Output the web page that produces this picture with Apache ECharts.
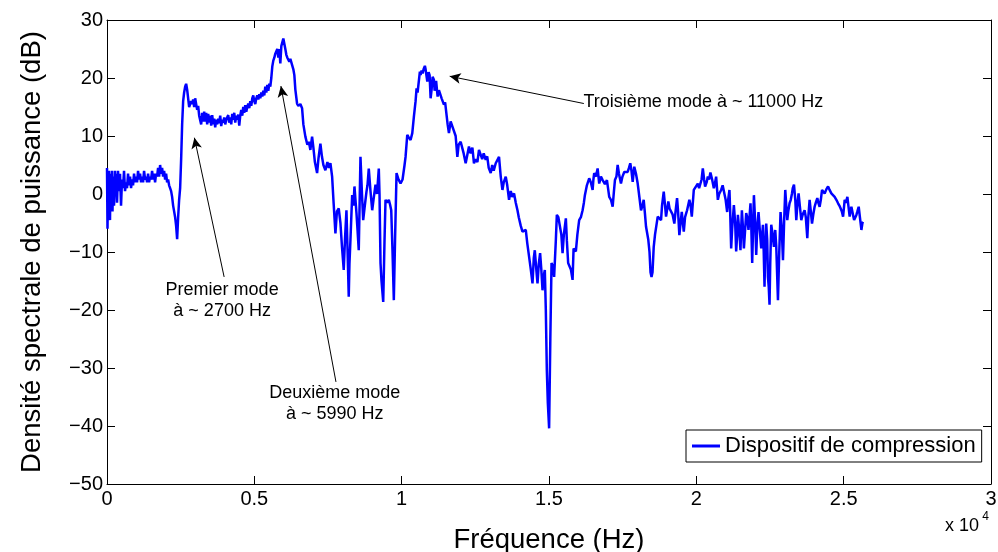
<!DOCTYPE html>
<html>
<head>
<meta charset="utf-8">
<script src="https://cdn.jsdelivr.net/npm/echarts@6/dist/echarts.min.js"></script>
<style>
  html, body { margin: 0; padding: 0; background: #fff; }
  #chart { width: 998px; height: 552px; }
</style>
</head>
<body>
<div id="chart"></div>
<script>
// densité spectrale de puissance
var freqHz = [
  0, 17, 34, 51, 68, 102, 119, 136, 170, 187,
  204, 238, 272, 289, 306, 340, 374, 408, 442, 476,
  510, 544, 578, 612, 646, 680, 714, 748, 782, 816,
  850, 884, 918, 952, 986, 1020, 1054, 1088, 1122, 1156,
  1190, 1224, 1258, 1292, 1326, 1360, 1394, 1428, 1462, 1496,
  1530, 1564, 1598, 1632, 1666, 1700, 1734, 1768, 1802, 1836,
  1870, 1904, 1938, 1972, 2006, 2040, 2074, 2108, 2142, 2176,
  2210, 2244, 2278, 2312, 2346, 2380, 2414, 2448, 2482, 2516,
  2550, 2584, 2618, 2652, 2686, 2720, 2754, 2788, 2822, 2856,
  2890, 2924, 2958, 2992, 3026, 3060, 3094, 3128, 3162, 3196,
  3230, 3264, 3298, 3332, 3366, 3400, 3434, 3468, 3502, 3536,
  3570, 3604, 3638, 3672, 3706, 3740, 3774, 3808, 3842, 3876,
  3910, 3944, 3978, 4012, 4046, 4080, 4114, 4148, 4182, 4216,
  4250, 4284, 4318, 4352, 4386, 4420, 4454, 4488, 4522, 4556,
  4590, 4624, 4658, 4692, 4726, 4760, 4794, 4828, 4862, 4896,
  4930, 4964, 4998, 5032, 5066, 5100, 5134, 5168, 5202, 5236,
  5270, 5304, 5338, 5372, 5406, 5440, 5474, 5508, 5542, 5576,
  5610, 5644, 5678, 5712, 5746, 5780, 5814, 5848, 5882, 5916,
  5950, 5984, 6018, 6052, 6086, 6120, 6154, 6188, 6222, 6256,
  6290, 6324, 6358, 6392, 6450, 6494, 6562, 6620, 6664, 6732,
  6800, 6851, 6902, 6960, 7004, 7055, 7130, 7174, 7242, 7293,
  7344, 7412, 7480, 7531, 7582, 7640, 7684, 7752, 7803, 7864,
  7922, 7973, 8034, 8075, 8126, 8160, 8204, 8228, 8262, 8320,
  8364, 8398, 8432, 8466, 8500, 8544, 8568, 8602, 8653, 8694,
  8738, 8806, 8840, 8884, 8942, 9000, 9044, 9112, 9163, 9224,
  9248, 9282, 9316, 9374, 9418, 9452, 9503, 9564, 9605, 9646,
  9690, 9734, 9775, 9826, 9894, 9962, 10030, 10098, 10132, 10190,
  10234, 10302, 10360, 10414, 10472, 10506, 10540, 10584, 10618, 10642,
  10676, 10710, 10744, 10788, 10812, 10870, 10914, 10948, 10982, 11016,
  11050, 11094, 11118, 11169, 11220, 11264, 11322, 11356, 11434, 11475,
  11526, 11560, 11604, 11662, 11720, 11764, 11832, 11890, 11934, 12002,
  12060, 12104, 12172, 12230, 12284, 12342, 12400, 12454, 12512, 12570,
  12624, 12682, 12733, 12784, 12852, 12903, 12954, 13022, 13073, 13124,
  13192, 13243, 13304, 13362, 13420, 13464, 13532, 13583, 13644, 13702,
  13753, 13814, 13872, 13930, 13974, 14042, 14100, 14144, 14212, 14263,
  14324, 14382, 14440, 14484, 14518, 14569, 14610, 14654, 14698, 14739,
  14780, 14824, 14858, 14892, 14926, 14960, 15004, 15045, 15086, 15130,
  15174, 15232, 15266, 15317, 15378, 15419, 15460, 15504, 15572, 15606,
  15650, 15691, 15742, 15800, 15834, 15878, 15912, 15963, 16024, 16082,
  16140, 16184, 16218, 16286, 16364, 16422, 16480, 16507, 16534, 16592,
  16650, 16704, 16762, 16820, 16898, 16966, 17044, 17102, 17160, 17204,
  17238, 17289, 17330, 17374, 17442, 17493, 17554, 17612, 17670, 17714,
  17758, 17799, 17840, 17894, 17952, 18010, 18054, 18122, 18173, 18214,
  18258, 18292, 18370, 18411, 18445, 18479, 18513, 18554, 18598, 18690,
  18734, 18802, 18836, 18894, 18938, 18972, 19050, 19091, 19142, 19193,
  19254, 19295, 19346, 19380, 19424, 19465, 19506, 19533, 19574, 19618,
  19686, 19764, 19805, 19846, 19914, 19958, 20050, 20094, 20138, 20179,
  20220, 20264, 20298, 20349, 20390, 20434, 20478, 20536, 20594, 20638,
  20672, 20730, 20774, 20842, 20893, 20954, 20995, 21046, 21080, 21124,
  21148, 21182, 21216, 21274, 21318, 21352, 21386, 21410, 21454, 21498,
  21522, 21546, 21573, 21614, 21658, 21692, 21726, 21770, 21804, 21838,
  21862, 21896, 21930, 21954, 21998, 22032, 22066, 22110, 22151, 22202,
  22236, 22260, 22287, 22314, 22338, 22372, 22406, 22430, 22457, 22484,
  22508, 22542, 22576, 22634, 22678, 22712, 22770, 22814, 22858, 22899,
  22940, 22984, 23018, 23052, 23086, 23120, 23164, 23205, 23246, 23273,
  23314, 23358, 23392, 23426, 23470, 23511, 23562, 23613, 23674, 23715,
  23766, 23800, 23844, 23885, 23926, 23970, 24014, 24055, 24106, 24140,
  24184, 24225, 24266, 24310, 24354, 24412, 24470, 24514, 24582, 24633,
  24694, 24752, 24810, 24854, 24898, 24939, 24980, 25007, 25034, 25075,
  25126, 25160, 25204, 25228, 25262, 25313, 25354, 25398, 25432, 25466,
  25510, 25551, 25602, 25636, 25660
];

var psdDb = [
  4.5, -6, 3, -2, 4, -4.5, 3.5, -1, 4, -3,
  3, -2, 4, 0, 3.5, -1.5, 4, 0.5, 3.5, -2,
  2.5, 1, 4, 0.5, 2, 1, 3.5, 1.5, 3, 1,
  2.5, 1.5, 3.5, 2, 3, 2, 4, 2.5, 3.5, 2,
  3, 2, 4, 2.5, 3, 2, 3.5, 2, 3, 2.5,
  4, 2.5, 3.5, 2, 3.5, 3, 4.5, 3, 5, 3.5,
  4.5, 3, 4, 2.5, 3.5, 2, 2.5, 1.5, 1, 0.5,
  -0.5, -2, -3, -4, -5.5, -7.8, -4, -1, 1, 6,
  12, 16, 17.5, 18.5, 19, 18, 16.5, 15, 14.8, 16,
  15.5, 16.3, 15, 16.5, 15.5, 14.5, 15.2, 13.5, 13.3, 12,
  14, 12.5, 14.2, 12.5, 14, 12, 13.8, 12.3, 13.5, 11.8,
  13.6, 12, 13, 11.5, 12.8, 12, 13, 12.2, 13.5, 11.7,
  12.8, 12.3, 13.2, 12, 12.8, 12.5, 13.6, 12.3, 13.2, 12,
  13.8, 12.8, 14, 12.3, 13.5, 12.8, 13.7, 11.8, 13.5, 14.5,
  13.5, 15, 14, 15.3, 14.2, 15, 15.6, 14.8, 16, 15.2,
  16.5, 17, 16, 15.5, 16.5, 17, 16.3, 17.2, 16.5, 17.5,
  16.8, 17.8, 17, 18.5, 17.5, 18.8, 17.8, 19, 18.5, 20,
  22, 23, 23.5, 24.2, 24.5, 25, 23.5, 25, 22.5, 25.5,
  25.8, 26.8, 26.5, 25, 24, 23.5, 23.8, 22.8, 23.3, 22.7,
  22.5, 21.5, 20.5, 18, 15.6, 15.2, 15.5, 14.8, 12, 9.9,
  8.5, 9, 7.6, 9.9, 8, 5.5, 3.6, 6, 8.7, 6.5,
  5, 4.1, 5.5, 4.5, 5.3, 3, -1, -6.8, -3, -2.5,
  -5, -9, -13.1, -8, -2.8, -9, -17.7, -12, -7.9, -0.2,
  -2, 1.3, -1, -3.3, -6, -9.7, -3, 6.4, 0, -4.5,
  -2.5, 0.4, 1.5, 4.4, 0.5, -2.8, -1, 1.6, 0, 4.4,
  0, -11.9, -15, -18.6, -8, -1, -1.5, -1, -1.8, -2.8,
  -10, -18.3, -8, 3.6, 2.5, 1.8, 2.5, 5, 6.4, 10.2,
  9.8, 9.3, 10.5, 13.3, 16, 18.2, 17.5, 17.6, 21.1, 20.5,
  21.3, 20.8, 21.5, 22.1, 21.5, 19.4, 21, 20.5, 16.5, 18,
  20.2, 19.7, 17.8, 19.5, 16.8, 17.9, 18, 16.5, 15.4, 15.8,
  13.5, 12, 10.5, 12.5, 12.2, 11, 10, 6.4, 8.5, 9,
  9.3, 7, 5.3, 5.5, 8.2, 7, 8, 5.3, 6, 5.5,
  7.6, 7.6, 6, 7, 5.9, 6.5, 4.5, 3.6, 5, 4,
  5.3, 5.5, 6.4, 3, 0.7, 2, 3, 1.5, -1, 0.5,
  -0.5, 0.1, -1.5, -2.8, -4, -5.5, -6.5, -6.5, -6.2, -8.5,
  -10.8, -13, -15.4, -11, -9.7, -13, -15.4, -12, -10.2, -13,
  -16.6, -14, -13.1, -20, -30.3, -36, -40.4, -25, -11.9, -12.5,
  -14.3, -8, -3.6, -4, -3.9, -7, -10.2, -7, -4.2, -8,
  -11.9, -12, -13, -14.8, -9.4, -9.5, -9.9, -7, -4.5, -4,
  -2.8, -1.5, -0.2, 1.5, 2.7, 2, 0.7, 2.5, 3.6, 3,
  4.4, 1.8, 3, 2.4, 1.7, 2.4, -0.5, -1, -2.2, 0.5,
  2.4, 3, 5, 3.5, 1.8, 3, 3.8, 3.5, 3.8, 4.5,
  5.3, 4, 2.1, 4.7, 3.5, 1.8, 0, -2.8, -2, -1,
  -3.5, -5.6, -7.9, -10, -13.5, -14.3, -13.5, -9.1, -7, -3.9,
  -4.2, -4.5, -2, 0.4, -2, -3.9, -1.3, -2.5, -2.8, -3.5,
  -5.1, -3, -0.7, -3, -7.1, -5, -3.1, -4.5, -6.5, -4,
  -2.8, -1, -2, -3.9, 0.7, 1, 1.8, 1, 0.7, 2.5,
  4.4, 2.5, 1.3, 2, 3, 2.5, 3.7, 2.5, 1, 2,
  3, -1, 0, 0.7, 1.5, 1.3, -1, -3.1, -1, 0.7,
  -3, -9.4, -6, -1.9, -5, -9.9, -7, -3.6, -6, -9.7,
  -6, -2.8, -5, -9.4, -6, -3.3, -4, -6.2, -4, -1.6,
  -5, -11.9, -5, -0.2, -5, -10.5, -6, -3.1, -6, -9.4,
  -7, -5.3, -10, -16, -10, -5.1, -8, -14.3, -16, -19.1,
  -12, -5.3, -6.5, -9.1, -6.2, -9, -18.3, -10, -3.1, -6,
  -11.4, -4, 0.7, -2, -4.5, -3, -1.6, -1, 0.1, 1,
  1.6, -1, -4.5, -2, 0.1, -2, -4.5, -3.5, -2.8, -4,
  -7.6, -4, -1, -3, -5.1, -3.5, -2.2, -1.5, -0.7, -1.5,
  -2.2, -1, 0.7, 0.4, 0.1, 0.8, 1.3, 0.8, 0.1, 0.3,
  -0.5, -1, -1.6, -2, -2.5, -3, -3.9, -2.5, -1, -1.5,
  -0.5, -2, -3.9, -3, -2.2, -3.5, -4.5, -4, -3.6, -3,
  -2.2, -4, -6.2, -5, -4.8
];

// annotations (coordonnées dans le repère des données)
var noteLabels = ['Premier mode\nà ~ 2700 Hz', 'Deuxième mode\nà ~ 5990 Hz', 'Troisième mode à ~ 11000 Hz'];
var noteCoords = [[3907, -18.3], [7729, -36.2], [16172, 15.9]];
var noteAlign = ['center', 'center', 'left'];
var arrowTails = [[3975, -14.3], [7770, -32.4], [16183, 15.6]];
var arrowTips = [[2966, 9.7], [5902, 18.6], [11630, 20.3]];

var font = 'Liberation Sans, Arial, Helvetica, sans-serif';
var myChart = echarts.init(document.getElementById('chart'));

var seriesData = [];
for (var i = 0; i < freqHz.length; i++) {
  seriesData.push([freqHz[i], psdDb[i]]);
}

function minus (v) {
  return String(v).replace('-', '\u2212');
}

var boxLine = { onZero: false, lineStyle: { color: '#000', width: 1 } };
var innerTick = { inside: true, length: 8, lineStyle: { color: '#000', width: 1 } };

option = {
  animation: false,
  backgroundColor: '#fff',
  grid: { left: 107, right: 7, top: 20, bottom: 68, outerBoundsMode: 'none' },
  legend: {
    data: ['Dispositif de compression'],
    left: 686,
    top: 430,
    padding: [5, 6, 5, 6],
    borderColor: '#000',
    borderWidth: 1,
    backgroundColor: '#fff',
    icon: 'rect',
    itemWidth: 28,
    itemHeight: 3,
    textStyle: { fontFamily: font, fontSize: 22, color: '#000' }
  },
  xAxis: [{
    type: 'value',
    min: 0,
    max: 30000,
    interval: 5000,
    name: 'Fréquence (Hz)',
    nameLocation: 'middle',
    nameGap: 42,
    nameTextStyle: { fontFamily: font, fontSize: 27.5, color: '#000' },
    axisLine: boxLine,
    axisTick: innerTick,
    axisLabel: {
      fontFamily: font, fontSize: 20, color: '#000', margin: 5,
      formatter: function (v) { return String(v / 10000); }
    },
    splitLine: { show: false }
  }, {
    type: 'value',
    position: 'top',
    min: 0,
    max: 30000,
    interval: 5000,
    axisLine: boxLine,
    axisTick: innerTick,
    axisLabel: { show: false },
    splitLine: { show: false }
  }],
  yAxis: [{
    type: 'value',
    min: -50,
    max: 30,
    interval: 10,
    name: 'Densité spectrale de puissance (dB)',
    nameLocation: 'middle',
    nameGap: 61,
    nameTextStyle: { fontFamily: font, fontSize: 27.5, color: '#000' },
    axisLine: boxLine,
    axisTick: innerTick,
    axisLabel: { fontFamily: font, fontSize: 20, color: '#000', margin: 4, formatter: minus },
    splitLine: { show: false }
  }, {
    type: 'value',
    position: 'right',
    min: -50,
    max: 30,
    interval: 10,
    axisLine: boxLine,
    axisTick: innerTick,
    axisLabel: { show: false },
    splitLine: { show: false }
  }],
  graphic: [
    { type: 'text', right: 19, top: 517, style: { text: 'x 10', font: '18px ' + font, fill: '#000' } },
    { type: 'text', right: 9, top: 511, style: { text: '4', font: '12px ' + font, fill: '#000' } }
  ],
  series: [{
    name: 'Dispositif de compression',
    type: 'line',
    xAxisIndex: 0,
    yAxisIndex: 0,
    data: seriesData,
    symbol: 'none',
    lineStyle: { color: '#0000ff', width: 2.5 },
    itemStyle: { color: '#0000ff' },
    markLine: {
      silent: true,
      symbol: ['none', 'arrow'],
      symbolSize: [8, 11],
      label: { show: false },
      lineStyle: { color: '#000', width: 1, type: 'solid' },
      data: arrowTails.map(function (t, k) {
        return [{ coord: t }, { coord: arrowTips[k] }];
      })
    },
    markPoint: {
      silent: true,
      symbol: 'circle',
      symbolSize: 0,
      label: {
        show: true, position: 'inside', color: '#000',
        fontFamily: font, fontSize: 18, lineHeight: 21
      },
      data: noteCoords.map(function (c, k) {
        return { coord: c, label: { formatter: noteLabels[k], align: noteAlign[k] } };
      })
    }
  }]
};

myChart.setOption(option);
window.addEventListener('resize', function () {
  myChart.resize();
});
</script>
</body>
</html>
